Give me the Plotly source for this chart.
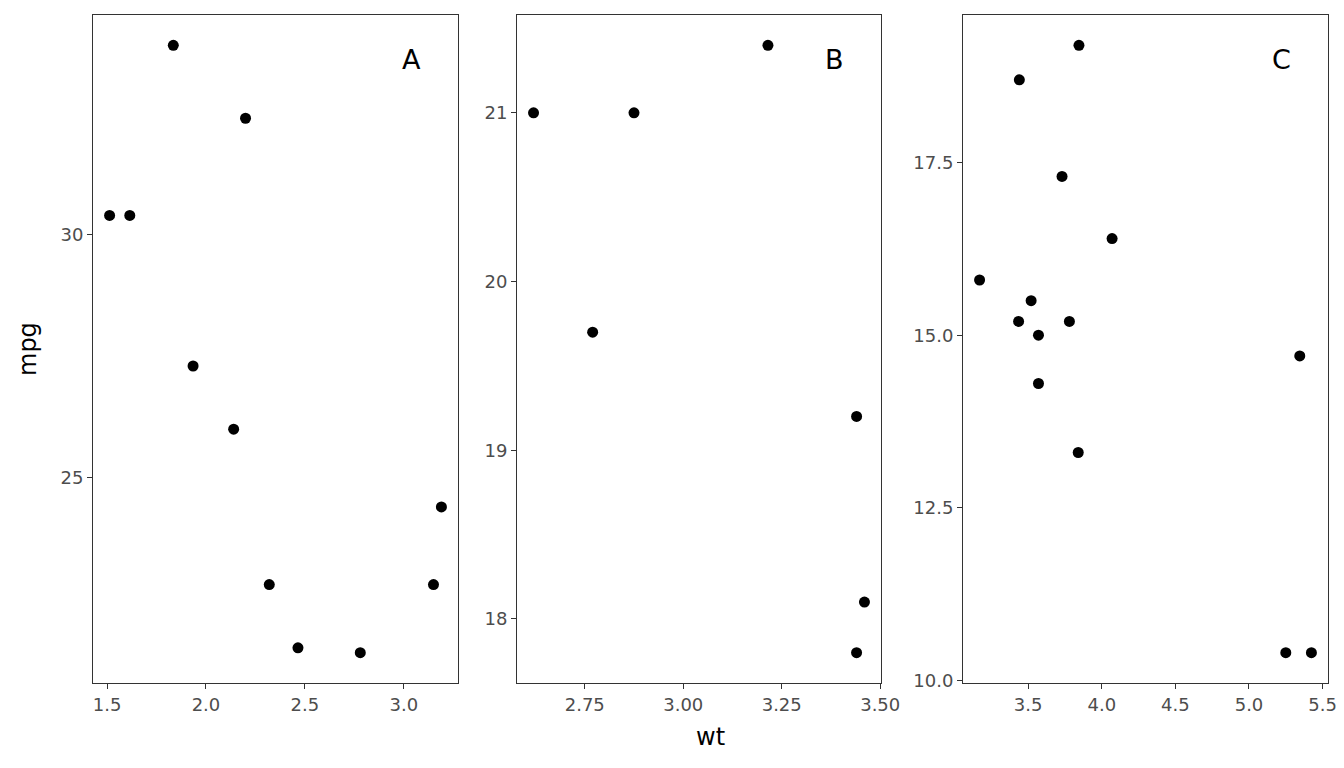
import plotly.graph_objects as go

# mtcars, split by cylinders (4, 6, 8)
wt_4 = [2.320, 3.190, 3.150, 2.200, 1.615, 1.835, 2.465, 1.935, 2.140, 1.513, 2.780]
mpg_4 = [22.8, 24.4, 22.8, 32.4, 30.4, 33.9, 21.5, 27.3, 26.0, 30.4, 21.4]

wt_6 = [2.620, 2.875, 3.215, 3.460, 3.440, 3.440, 2.770]
mpg_6 = [21.0, 21.0, 21.4, 18.1, 19.2, 17.8, 19.7]

wt_8 = [3.440, 3.570, 4.070, 3.730, 3.780, 5.250, 5.424, 5.345, 3.520, 3.435,
        3.840, 3.845, 3.170, 3.570]
mpg_8 = [18.7, 14.3, 16.4, 17.3, 15.2, 10.4, 10.4, 14.7, 15.5, 15.2,
         13.3, 19.2, 15.8, 15.0]

panel_labels = ["A", "B", "C"]
x_ticks = [[1.5, 2.0, 2.5, 3.0], [2.75, 3.00, 3.25, 3.50], [3.5, 4.0, 4.5, 5.0, 5.5]]
x_ticktext = [["1.5", "2.0", "2.5", "3.0"], ["2.75", "3.00", "3.25", "3.50"],
              ["3.5", "4.0", "4.5", "5.0", "5.5"]]
y_ticks = [[25, 30], [18, 19, 20, 21], [10.0, 12.5, 15.0, 17.5]]
y_ticktext = [["25", "30"], ["18", "19", "20", "21"], ["10.0", "12.5", "15.0", "17.5"]]

W, H = 1344, 768
x_domains = [(93 / W, 458 / W), (517 / W, 881 / W), (963 / W, 1328 / W)]
y_domain = (1 - 683 / H, 1 - 15 / H)


def expand(vals, f=0.05):
    # ggplot-style 5% padding around the data
    lo, hi = min(vals), max(vals)
    d = (hi - lo) * f
    return [lo - d, hi + d]


fig = go.Figure()
panels = [(wt_4, mpg_4), (wt_6, mpg_6), (wt_8, mpg_8)]
axis_style = dict(showgrid=False, zeroline=False, showline=True, mirror=True,
                  automargin=False,
                  linecolor="#333333", linewidth=1.1, ticks="outside", ticklen=5,
                  tickwidth=1.1, tickcolor="#333333",
                  tickfont=dict(size=18, color="#4d4d4d"))

for i, (x, y) in enumerate(panels):
    n = "" if i == 0 else str(i + 1)
    fig.add_trace(go.Scatter(x=x, y=y, mode="markers", xaxis="x" + n, yaxis="y" + n,
                             marker=dict(color="black", size=11), showlegend=False))
    fig.layout["xaxis" + n] = dict(axis_style, domain=x_domains[i], anchor="y" + n,
                                   range=expand(x), tickvals=x_ticks[i],
                                   ticktext=x_ticktext[i])
    fig.layout["yaxis" + n] = dict(axis_style, domain=y_domain, anchor="x" + n,
                                   range=expand(y), tickvals=y_ticks[i],
                                   ticktext=y_ticktext[i])
    fig.add_annotation(text=panel_labels[i], xref="x" + n + " domain", yref="y" + n + " domain",
                       x=0.873, y=0.933, showarrow=False, xanchor="center", yanchor="middle",
                       font=dict(size=27, color="black"))

fig.add_annotation(text="mpg", xref="paper", yref="paper", x=28 / W, y=1 - 349 / H,
                   textangle=-90, showarrow=False, xanchor="center", yanchor="middle",
                   font=dict(size=24, color="black"))
fig.add_annotation(text="wt", xref="paper", yref="paper", x=710 / W, y=1 - 737 / H,
                   showarrow=False, xanchor="center", yanchor="middle",
                   font=dict(size=24, color="black"))

fig.update_layout(width=W, height=H, margin=dict(l=0, r=0, t=0, b=0),
                  plot_bgcolor="white", paper_bgcolor="white",
                  font=dict(family="DejaVu Sans"))

page_fix = ("document.body.style.margin='0';"
            "document.body.style.overflow='hidden';"
            "document.documentElement.style.overflow='hidden';")
fig.write_html("out.html", config={"displayModeBar": False}, post_script=page_fix)
